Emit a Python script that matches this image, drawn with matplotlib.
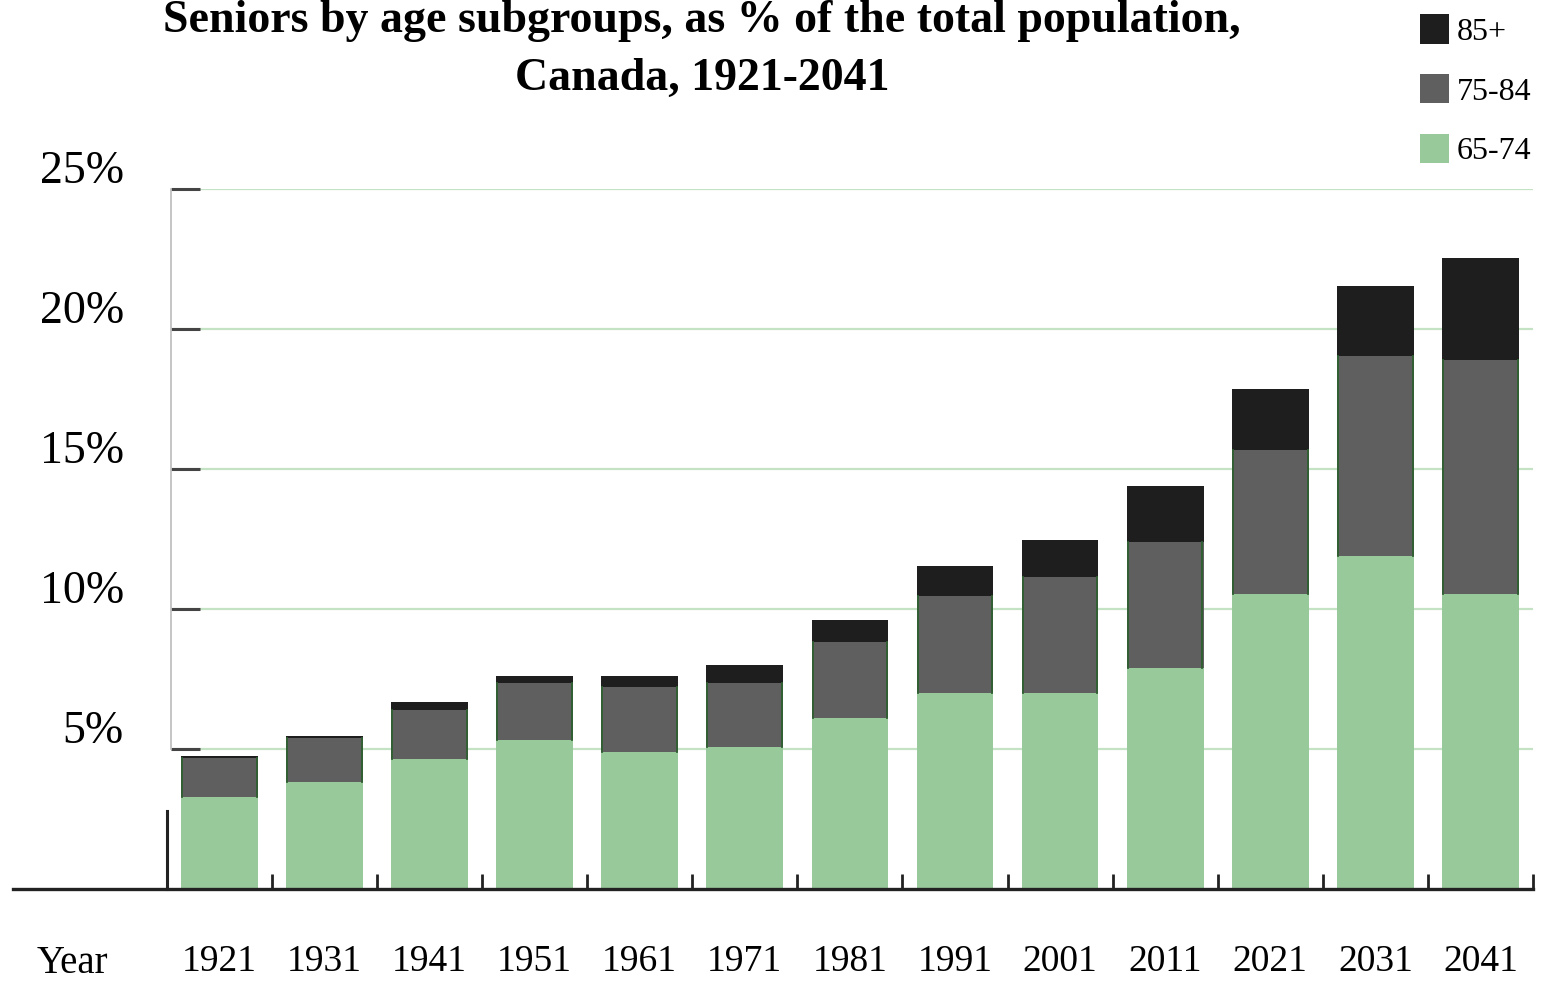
import numpy as np
import matplotlib
matplotlib.use("Agg")
import matplotlib.pyplot as plt
from matplotlib.transforms import ScaledTranslation

# data (cumulative tops converted to segment sizes)
years = ["1921", "1931", "1941", "1951", "1961", "1971", "1981",
         "1991", "2001", "2011", "2021", "2031", "2041"]
age_65_74 = [3.30, 3.83, 4.65, 5.32, 4.89, 5.07, 6.10, 6.99, 6.99, 7.91, 10.53, 11.88, 10.53]
age_75_84 = [1.38, 1.55, 1.73, 2.02, 2.31, 2.27, 2.73, 3.47, 4.14, 4.47, 5.14, 7.16, 8.37]
age_85_plus = [0.07, 0.07, 0.29, 0.28, 0.42, 0.67, 0.78, 1.06, 1.35, 2.02, 2.17, 2.48, 3.62]
y_ticks = [5, 10, 15, 20, 25]
y_tick_labels = ["5%", "10%", "15%", "20%", "25%"]

c_young = "#98c99a"
c_mid = "#5f5f5f"
c_old = "#1e1e1e"
serif = ["Liberation Serif", "DejaVu Serif"]

plt.rcParams["font.family"] = serif

fig = plt.figure(figsize=(15.44, 9.86), dpi=100)
ax = fig.add_axes([171 / 1544, 1 - 889 / 986, (1533 - 171) / 1544, 700 / 986])

x = np.arange(len(years))
w = 0.73
b1 = ax.bar(x, age_65_74, w, color=c_young, zorder=2, label="65-74")
b2 = ax.bar(x, age_75_84, w, bottom=age_65_74, color=c_mid, zorder=2, label="75-84")
bottom3 = np.array(age_65_74) + np.array(age_75_84)
b3 = ax.bar(x, age_85_plus, w, bottom=bottom3, color=c_old, zorder=2, label="85+")

# thin dark green sides on the 75-84 segments, as in the original
for r in b2.patches:
    x0, y0, h = r.get_x(), r.get_y(), r.get_height()
    ax.plot([x0 + 0.01, x0 + 0.01], [y0, y0 + h], color="#2f5f30", lw=1.3, zorder=2.5)
    ax.plot([x0 + w - 0.01, x0 + w - 0.01], [y0, y0 + h], color="#2f5f30", lw=1.3, zorder=2.5)

ax.set_xlim(-0.46, 12.5)
ax.set_ylim(0, 25)

# y axis: gridlines, inward ticks, labels sitting above the lines
ax.set_yticks(y_ticks)
ax.set_yticklabels(y_tick_labels, fontsize=33)
ax.yaxis.grid(True, color="#c4e2c4", lw=1.6, zorder=0)
ax.set_axisbelow(True)
ax.tick_params(axis="y", direction="in", length=21, width=2.2, color="#444444", pad=34)
for lab in ax.get_yticklabels():
    lab.set_transform(lab.get_transform() + ScaledTranslation(0, 0.22, fig.dpi_scale_trans))

# x axis: labels under bars, small ticks between bars
ax.set_xticks(x)
ax.set_xticklabels(years, fontsize=27)
ax.tick_params(axis="x", which="major", length=0, pad=40)
ax.set_xticks(np.arange(0.5, 12.6, 1.0), minor=True)
ax.tick_params(axis="x", which="minor", direction="in", length=11, width=2, color="#222222")

for s in ["top", "right", "bottom"]:
    ax.spines[s].set_visible(False)
ax.spines["left"].set_color("#bbbbbb")
ax.spines["left"].set_linewidth(1.2)
ax.spines["left"].set_bounds(5, 25)

# baseline running out to the left edge and the tall stub at the start
ax.plot([-1.96, 12.5], [0, 0], color="#222222", lw=2.4, clip_on=False, zorder=3)
ax.plot([-0.5, -0.5], [0, 2.8], color="#222222", lw=2.2, clip_on=False, zorder=3)

ax.text(-1.4, 0, "Year", fontsize=28, ha="center", va="top",
        transform=ax.transData + ScaledTranslation(0, -0.56, fig.dpi_scale_trans))

fig.text(702 / 1544, 1 - 50 / 986,
         "Seniors by age subgroups, as % of the total population,\nCanada, 1921-2041",
         ha="center", va="center", fontsize=33, fontweight="bold", linespacing=1.5)

leg = fig.legend(handles=[b3, b2, b1], labels=["85+", "75-84", "65-74"],
                 loc="upper left", bbox_to_anchor=(1420 / 1544, 1 - 14 / 986),
                 frameon=False, fontsize=23, handlelength=0.9, handleheight=1.05,
                 handletextpad=0.25, labelspacing=0.85, borderaxespad=0,
                 borderpad=0)

fig.savefig("out.png", dpi=100)
